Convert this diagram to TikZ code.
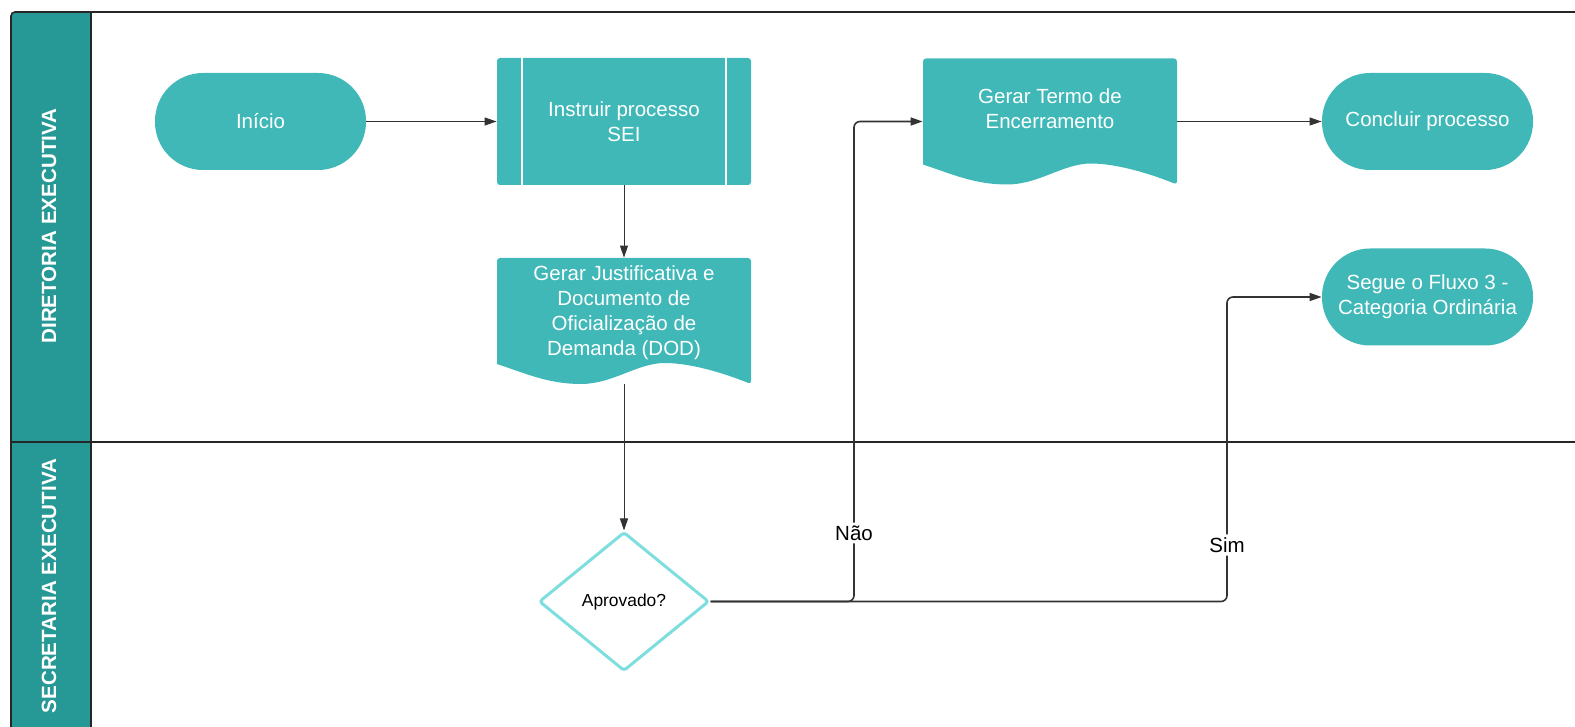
\documentclass[tikz,border=0pt]{standalone}
\usepackage{fontspec}
\setmainfont{Liberation Sans}
\usetikzlibrary{shapes}
\usetikzlibrary{arrows.meta}

\definecolor{boxteal}{RGB}{64,184,184}
\definecolor{laneteal}{RGB}{38,153,150}
\definecolor{diamondcyan}{RGB}{126,222,222}
\definecolor{linegray}{RGB}{51,51,51}

\begin{document}
\begin{tikzpicture}[x=0.5pt, y=-0.5pt,
            >={Triangle[length=6pt,width=4pt]},
            every node/.style = {font=\fontsize{10.25}{12.5}\selectfont},
            laneline/.style = {draw=black!85, line width=0.8pt},
            lanetitle/.style = {rotate=90, text=white,
                font=\bfseries\fontsize{10.3}{12}\selectfont},
            term/.style = {fill=boxteal, text=white, align=center,
                rounded corners=24pt,
                minimum width=105.5pt, minimum height=48.5pt},
            predef/.style = {fill=boxteal, text=white, align=center,
                rounded corners=1.5pt,
                minimum width=127pt, minimum height=63.5pt,
                path picture={
                    \draw[white, line width=1pt]
                        ([xshift=12.5pt]path picture bounding box.north west)
                        -- ([xshift=12.5pt]path picture bounding box.south west)
                        ([xshift=-12.5pt]path picture bounding box.north east)
                        -- ([xshift=-12.5pt]path picture bounding box.south east);}},
            docbox/.style = {text=white, align=center, text depth=3pt,
                minimum width=127pt, minimum height=63pt,
                path picture={
                    \fill[boxteal, rounded corners=1.5pt]
                        ([yshift=10pt]path picture bounding box.south west)
                        -- (path picture bounding box.north west)
                        -- (path picture bounding box.north east)
                        -- (path picture bounding box.south east) [sharp corners]
                        .. controls +(-15pt,6pt) and +(12pt,0pt)
                        .. ([xshift=84pt,yshift=10.5pt]path picture bounding box.south west)
                        .. controls +(-14pt,0pt) and +(16pt,0pt)
                        .. ([xshift=42pt]path picture bounding box.south west)
                        .. controls +(-16pt,0pt) and +(15pt,-5pt)
                        .. ([yshift=10pt]path picture bounding box.south west);}},
            decision/.style = {diamond, draw=diamondcyan, line width=1.5pt,
                rounded corners=1.5pt, inner sep=0pt,
                minimum width=85pt, minimum height=69.5pt,
                font=\fontsize{8.7}{10}\selectfont},
            flow/.style = {->, draw=linegray, line width=0.5pt},
            branch/.style = {->, draw=linegray, line width=0.8pt,
                rounded corners=3pt},
            answer/.style = {fill=white, inner sep=1.5pt, text=black}]
  % lanes
  \useasboundingbox (0,0) rectangle (1575,727);
  \clip (0,0) rectangle (1575,727);
  \fill[laneteal, rounded corners=2pt] (11,12) rectangle (91,780);
  \draw[laneline, rounded corners=2pt] (1600,12) -- (11,12) -- (11,780);
  \draw[laneline] (91,12) -- (91,780);
  \draw[laneline] (11,442) -- (1600,442);
  \node[lanetitle] (diretoria) at (49,226) {DIRETORIA EXECUTIVA};
  \node[lanetitle] (secretaria) at (49,586) {SECRETARIA EXECUTIVA};

  % steps
  \node[term] (inicio) at (260.5,121.5) {Início};
  \node[predef] (instruir) at (624,121.5) {Instruir processo\\SEI};
  \node[docbox, text height=37.8pt] (justificativa) at (624,321)
      {Gerar Justificativa e\\Documento de\\Oficialização de\\Demanda (DOD)};
  \node[decision] (aprovado) at (624,601.5) {Aprovado?};
  \node[docbox, text height=9.8pt] (termo) at (1050,121.5)
      {Gerar Termo de\\Encerramento};
  \node[term] (concluir) at (1427.5,121.5) {Concluir processo};
  \node[term] (segue) at (1427.5,297) {Segue o Fluxo 3 -\\Categoria Ordinária};

  % connectors
  \draw[flow] (inicio) -- (instruir);
  \draw[flow] (instruir) -- (justificativa);
  \draw[flow] (justificativa) -- (aprovado);
  \draw[flow] (termo) -- (concluir);
  \draw[branch] (aprovado.east) -| (854,533) node[answer] {Não} |- (termo.west);
  \draw[branch] (aprovado.east) -| (1227,545) node[answer] {Sim} |- (segue.west);
\end{tikzpicture}
\end{document}
